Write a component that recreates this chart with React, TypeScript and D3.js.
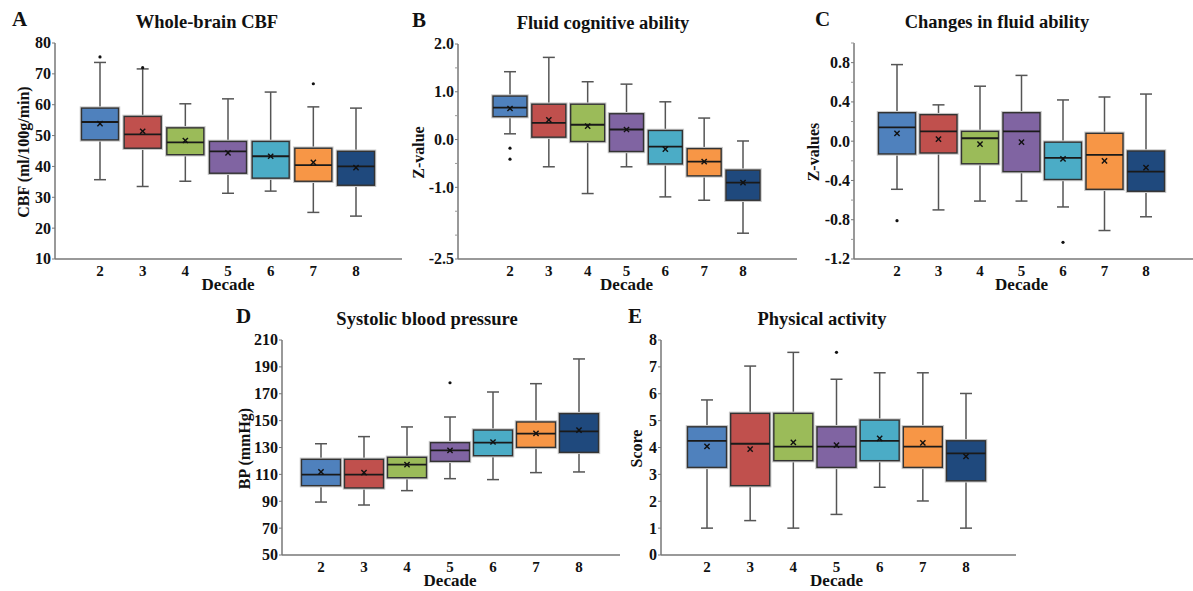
import React from 'react'
import { scaleLinear } from 'd3'

const decades = [2, 3, 4, 5, 6, 7, 8]
const boxColors = ['#4F81BD', '#C0504D', '#9BBB59', '#8064A2', '#4BACC6', '#F79646', '#1F497D']

// each box: [lower whisker, q1, median, q3, upper whisker, mean]
const cbfBoxes = [
  [35.7, 48.6, 54.4, 58.9, 73.7, 53.9],
  [33.5, 45.9, 50.4, 56.2, 71.6, 51.4],
  [35.2, 43.8, 47.8, 52.5, 60.3, 48.4],
  [31.3, 37.8, 44.9, 48.1, 61.9, 44.4],
  [32.0, 36.2, 43.3, 48.1, 64.1, 43.3],
  [25.1, 35.2, 40.4, 45.9, 59.3, 41.3],
  [23.9, 33.9, 40.0, 44.9, 58.9, 39.6]
]
const cbfOutliers = [[2, 75.5], [3, 72.0], [7, 66.8]]
const cbfTicks = [10, 20, 30, 40, 50, 60, 70, 80]

const fluidBoxes = [
  [0.12, 0.48, 0.67, 0.91, 1.42, 0.65],
  [-0.57, 0.05, 0.35, 0.74, 1.72, 0.41],
  [-1.13, -0.04, 0.31, 0.74, 1.21, 0.28],
  [-0.57, -0.25, 0.21, 0.54, 1.16, 0.21],
  [-1.2, -0.51, -0.15, 0.19, 0.79, -0.2],
  [-1.27, -0.76, -0.46, -0.19, 0.45, -0.46],
  [-1.96, -1.27, -0.9, -0.64, -0.03, -0.9]
]
const fluidOutliers = [[2, -0.18], [2, -0.41]]
const fluidTicks = [2.0, 1.0, 0.0, -1.0, -2.5]
const fluidMinorTicks = [1.5, 0.5, -0.5, -1.5, -2.0]

const changeBoxes = [
  [-0.49, -0.13, 0.14, 0.29, 0.78, 0.08],
  [-0.70, -0.12, 0.10, 0.27, 0.37, 0.02],
  [-0.61, -0.23, 0.03, 0.10, 0.56, -0.03],
  [-0.61, -0.31, 0.10, 0.29, 0.67, -0.01],
  [-0.67, -0.39, -0.17, -0.01, 0.42, -0.18],
  [-0.91, -0.49, -0.14, 0.08, 0.45, -0.20],
  [-0.77, -0.51, -0.31, -0.10, 0.48, -0.27]
]
const changeOutliers = [[2, -0.81], [6, -1.03]]
const changeTicks = [0.8, 0.4, 0.0, -0.4, -0.8, -1.2]
const changeMinorTicks = [1.0, 0.6, 0.2, -0.2, -0.6, -1.0]

const bpBoxes = [
  [89.4, 101.6, 109.8, 121.2, 132.8, 111.8],
  [87.2, 99.9, 109.8, 121.2, 138.1, 111.3],
  [97.9, 107.5, 117.2, 122.7, 145.3, 117.2],
  [106.8, 119.7, 127.9, 133.6, 152.7, 127.9],
  [106.1, 123.9, 133.6, 143.0, 171.3, 134.1],
  [111.3, 130.1, 140.3, 149.0, 177.5, 140.5],
  [111.8, 126.4, 142.0, 155.2, 195.9, 143.0]
]
const bpOutliers = [[5, 178.2]]
const bpTicks = [50, 70, 90, 110, 130, 150, 170, 190, 210]

const activityBoxes = [
  [1.0, 3.26, 4.25, 4.77, 5.77, 4.04],
  [1.28, 2.58, 4.14, 5.27, 7.03, 3.94],
  [1.0, 3.51, 4.03, 5.27, 7.54, 4.19],
  [1.51, 3.26, 4.03, 4.77, 6.54, 4.09],
  [2.52, 3.51, 4.25, 5.02, 6.78, 4.34],
  [2.01, 3.26, 4.03, 4.77, 6.78, 4.17],
  [1.0, 2.76, 3.78, 4.25, 6.01, 3.67]
]
const activityOutliers = [[5, 7.54]]
const activityTicks = [0, 1, 2, 3, 4, 5, 6, 7, 8]

const FONT = '"Liberation Serif", "Times New Roman", serif'

const panels = [
  {
    letter: 'A', title: 'Whole-brain CBF', yLabel: 'CBF (ml/100g/min)',
    boxes: cbfBoxes, outliers: cbfOutliers, ticks: cbfTicks, minor: [], yDomain: [10, 80], fmt: (v) => `${v}`,
    left: 55, right: 402, top: 43, bottom: 259, x2: 100, x8: 356, boxW: 37,
    letterX: 12, titleX: 207, yLabelX: 23
  },
  {
    letter: 'B', title: 'Fluid cognitive ability', yLabel: 'Z-value',
    boxes: fluidBoxes, outliers: fluidOutliers, ticks: fluidTicks, minor: fluidMinorTicks, yDomain: [-2.5, 2.0], fmt: (v) => v.toFixed(1),
    left: 458, right: 797, top: 44, bottom: 259, x2: 510, x8: 743, boxW: 34,
    letterX: 412, titleX: 603, yLabelX: 418
  },
  {
    letter: 'C', title: 'Changes in fluid ability', yLabel: 'Z-values',
    boxes: changeBoxes, outliers: changeOutliers, ticks: changeTicks, minor: changeMinorTicks, yDomain: [-1.2, 1.0], fmt: (v) => v.toFixed(1),
    left: 854, right: 1193, top: 43, bottom: 259, x2: 897, x8: 1146, boxW: 37,
    letterX: 815, titleX: 997, yLabelX: 813
  },
  {
    letter: 'D', title: 'Systolic blood pressure', yLabel: 'BP (mmHg)',
    boxes: bpBoxes, outliers: bpOutliers, ticks: bpTicks, minor: [], yDomain: [50, 210], fmt: (v) => `${v}`,
    left: 282, right: 620, top: 340, bottom: 555, x2: 321, x8: 579, boxW: 39,
    letterX: 236, titleX: 427, yLabelX: 244
  },
  {
    letter: 'E', title: 'Physical activity', yLabel: 'Score',
    boxes: activityBoxes, outliers: activityOutliers, ticks: activityTicks, minor: [], yDomain: [0, 8], fmt: (v) => `${v}`,
    left: 661, right: 1016, top: 340, bottom: 555, x2: 707, x8: 966, boxW: 39,
    letterX: 628, titleX: 822, yLabelX: 636
  }
]

const Panel = ({ p }) => {
  const x = scaleLinear().domain([2, 8]).range([p.x2, p.x8])
  const y = scaleLinear().domain(p.yDomain).range([p.bottom, p.top])
  const capW = 12
  const m = 2.6
  return (
    <g fontFamily={FONT} fontWeight="bold" fill="#111">
      <text x={p.letterX} y={p.top - 17} fontSize={21}>{p.letter}</text>
      <text x={p.titleX} y={p.top - 15} fontSize={18.5} textAnchor="middle">{p.title}</text>
      <text
        transform={`translate(${p.yLabelX},${(p.top + p.bottom) / 2 + 1}) rotate(-90)`}
        fontSize={16} textAnchor="middle" dominantBaseline="central"
      >{p.yLabel}</text>
      <text x={(p.x2 + p.x8) / 2} y={p.bottom + 31} fontSize={17} textAnchor="middle">Decade</text>

      {/* axes */}
      <line x1={p.left} x2={p.left} y1={p.top} y2={p.bottom} stroke="#777" strokeWidth={1.5} />
      <line x1={p.left} x2={p.right} y1={p.bottom} y2={p.bottom} stroke="#777" strokeWidth={1.5} />
      {p.ticks.map((t) => (
        <g key={'t' + t}>
          <line x1={p.left - 3} x2={p.left} y1={y(t)} y2={y(t)} stroke="#777" strokeWidth={1} />
          <text x={p.left - 4} y={y(t)} dy="0.34em" fontSize={16} textAnchor="end">{p.fmt(t)}</text>
        </g>
      ))}
      {p.minor.map((t) => (
        <line key={'m' + t} x1={p.left - 3} x2={p.left} y1={y(t)} y2={y(t)} stroke="#999" strokeWidth={1} />
      ))}
      {decades.map((d) => (
        <text key={'x' + d} x={x(d)} y={p.bottom + 17} fontSize={15} textAnchor="middle">{d}</text>
      ))}

      {/* boxes */}
      {p.boxes.map((b, i) => {
        const cx = x(decades[i])
        const [lo, q1, med, q3, hi, mean] = b
        const bx = cx - p.boxW / 2
        return (
          <g key={'b' + i}>
            <line x1={cx} x2={cx} y1={y(hi)} y2={y(q3)} stroke="#555" strokeWidth={1.5} />
            <line x1={cx} x2={cx} y1={y(q1)} y2={y(lo)} stroke="#555" strokeWidth={1.5} />
            <line x1={cx - capW / 2} x2={cx + capW / 2} y1={y(hi)} y2={y(hi)} stroke="#555" strokeWidth={1.5} />
            <line x1={cx - capW / 2} x2={cx + capW / 2} y1={y(lo)} y2={y(lo)} stroke="#555" strokeWidth={1.5} />
            <rect x={bx} y={y(q3)} width={p.boxW} height={y(q1) - y(q3)} fill="none" stroke="#c8c8c8" strokeWidth={3.5} />
            <rect x={bx} y={y(q3)} width={p.boxW} height={y(q1) - y(q3)} fill={boxColors[i]} stroke="#333" strokeWidth={1.4} />
            <line x1={bx} x2={bx + p.boxW} y1={y(med)} y2={y(med)} stroke="#1a1a1a" strokeWidth={1.8} />
            <g stroke="#111" strokeWidth={1.4}>
              <line x1={cx - m} x2={cx + m} y1={y(mean) - m} y2={y(mean) + m} />
              <line x1={cx - m} x2={cx + m} y1={y(mean) + m} y2={y(mean) - m} />
            </g>
          </g>
        )
      })}
      {p.outliers.map(([d, v], i) => (
        <circle key={'o' + i} cx={x(d)} cy={y(v)} r={1.6} fill="#111" />
      ))}
    </g>
  )
}

export default function App() {
  return (
    <svg width={1193} height={591} style={{ position: 'absolute', left: 0, top: 0, background: '#fff' }}>
      {panels.map((p) => (
        <Panel key={p.letter} p={p} />
      ))}
    </svg>
  )
}
